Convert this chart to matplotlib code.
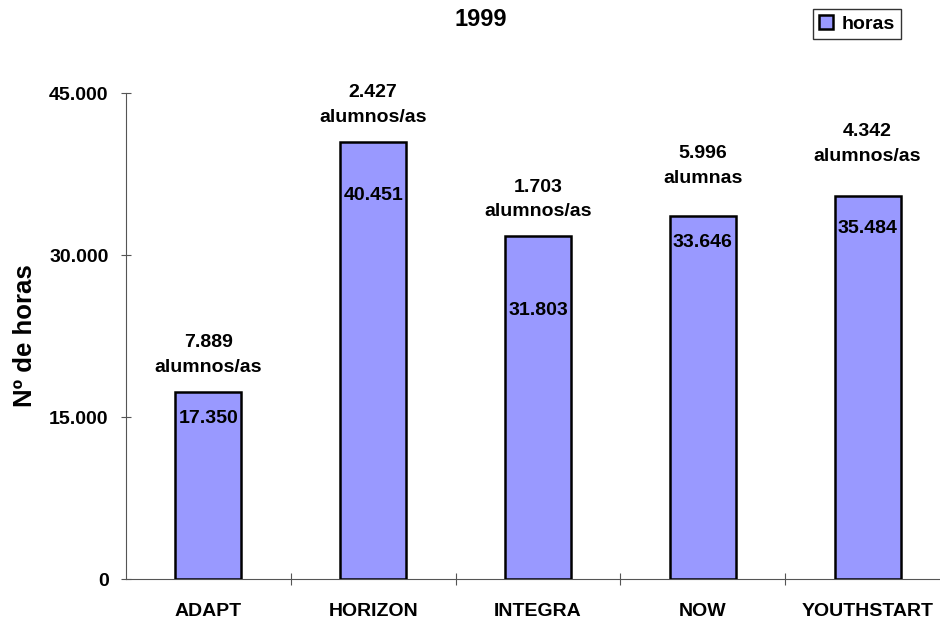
import matplotlib
matplotlib.use("Agg")
import matplotlib.pyplot as plt
from matplotlib.ticker import FuncFormatter

categories = ["ADAPT", "HORIZON", "INTEGRA", "NOW", "YOUTHSTART"]
horas = [17350, 40451, 31803, 33646, 35484]
alumnos = ["7.889\nalumnos/as", "2.427\nalumnos/as", "1.703\nalumnos/as", "5.996\nalumnas", "4.342\nalumnos/as"]
yticks = [0, 15000, 30000, 45000]

# label placement (pixels, as in the original chart)
inner_offset_px = [27, 53, 75, 27, 33]
outer_offset_px = [37, 37, 36, 50, 52]

plt.rcParams['font.family'] = ['Liberation Sans', 'DejaVu Sans']
plt.rcParams['font.weight'] = 'bold'

fig = plt.figure(figsize=(9.4, 6.19), dpi=100)
ax = fig.add_axes([126/940, (619-579)/619, 824/940, (579-93)/619])

x = list(range(len(categories)))
bars = ax.bar(x, horas, width=0.4, color="#9999FF", edgecolor="black", linewidth=1.8, label="horas", zorder=3)

ax.set_xlim(-0.5, len(categories) - 0.5)
ax.set_ylim(0, 45000)
ax.set_yticks(yticks)
ax.yaxis.set_major_formatter(FuncFormatter(lambda v, p: f"{int(v):,}".replace(",", ".")))
ax.set_xticks([i + 0.5 for i in x[:-1]], minor=False)
ax.set_xticklabels([])
ax.set_xticks(x, minor=True)
ax.set_xticklabels(categories, minor=True, fontsize=14, fontweight='bold')
ax.tick_params(axis='x', which='minor', length=0, pad=17)
ax.tick_params(axis='x', which='major', length=9, direction='inout', color='#555555')
ax.tick_params(axis='y', length=7, direction='inout', labelsize=14, pad=9, color='#555555')
for lbl in ax.get_yticklabels():
    lbl.set_fontweight('bold')

for s in ['top', 'right']:
    ax.spines[s].set_visible(False)
ax.spines['left'].set_color('#555555')
ax.spines['bottom'].set_color('#555555')

ax.set_ylabel("Nº de horas", fontsize=18.5, fontweight='bold', labelpad=9)

for xi, h, a, io, oo in zip(x, horas, alumnos, inner_offset_px, outer_offset_px):
    ax.annotate(f"{h:,}".replace(",", "."), (xi, h), xytext=(0, -io * 0.72), textcoords='offset points',
                ha='center', va='center', fontsize=14, fontweight='bold', zorder=4)
    ax.annotate(a, (xi, h), xytext=(0, oo * 0.72), textcoords='offset points',
                ha='center', va='center', fontsize=14, fontweight='bold', linespacing=1.6)

fig.text(481/940, 1 - 20/619, "1999", ha='center', va='center', fontsize=17, fontweight='bold')

leg = fig.legend(handles=[bars], labels=["horas"], loc='upper center', bbox_to_anchor=(857/940, 1 - 9/619),
                 frameon=True, fancybox=False, edgecolor='black', fontsize=14, handlelength=0.75, handleheight=0.75,
                 handletextpad=0.45, borderpad=0.3, borderaxespad=0)
leg.get_frame().set_linewidth(1.0)
for t in leg.get_texts():
    t.set_fontweight('bold')

fig.savefig("out.png", dpi=100)
